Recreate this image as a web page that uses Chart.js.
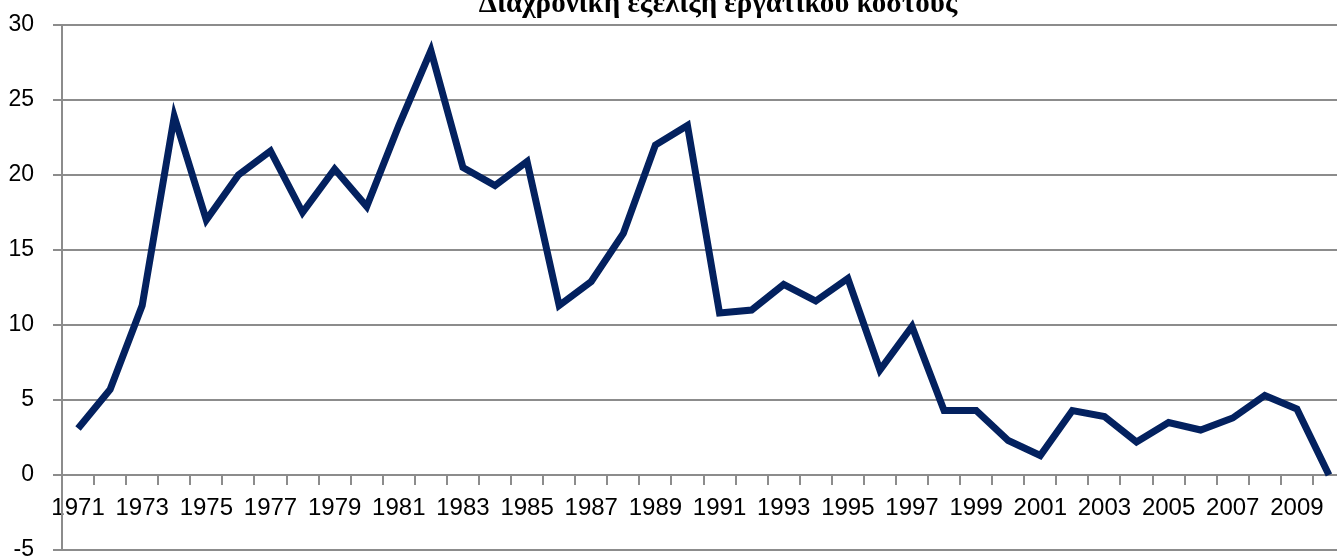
<!DOCTYPE html>
<html>
<head>
<meta charset="utf-8">
<script src="https://cdn.jsdelivr.net/npm/chart.js@4/dist/chart.umd.min.js"></script>
<style>
  html, body { margin: 0; padding: 0; background: #fff; overflow: hidden; }
  #wrap { position: absolute; left: 0; top: 0; width: 1365px; height: 572px; }
</style>
</head>
<body>
<div id="wrap"><canvas id="costChart"></canvas></div>
<script>
const years = [];
for (let y = 1971; y <= 2010; y++) years.push(String(y));

const laborCost = [
  3.1, 5.7, 11.3, 23.9, 17.0, 20.0, 21.6, 17.5, 20.4, 17.9,
  23.3, 28.3, 20.5, 19.3, 20.9, 11.3, 12.9, 16.1, 22.0, 23.3,
  10.8, 11.0, 12.7, 11.6, 13.1, 7.0, 9.9, 4.3, 4.3, 2.3,
  1.3, 4.3, 3.9, 2.2, 3.5, 3.0, 3.8, 5.3, 4.4, 0.0
];

const yTicks = [-5, 0, 5, 10, 15, 20, 25, 30];

const chartTitle = 'Διαχρονική εξέλιξη εργατικού κόστους';

const gridGray = '#8c8c8c';

// title sits partly above the page edge in the original, so draw it by hand
const titlePlugin = {
  id: 'cutTitle',
  afterDraw(chart) {
    const ctx = chart.ctx;
    ctx.save();
    ctx.font = 'bold 29px "Liberation Serif", serif';
    ctx.fillStyle = '#000';
    ctx.textAlign = 'center';
    ctx.textBaseline = 'alphabetic';
    ctx.fillText(chartTitle, 718, 12);
    ctx.restore();
  }
};

new Chart(document.getElementById('costChart'), {
  type: 'line',
  data: {
    labels: years,
    datasets: [{
      label: chartTitle,
      data: laborCost,
      borderColor: '#03215f',
      borderWidth: 7,
      pointRadius: 0,
      tension: 0,
      fill: false
    }]
  },
  options: {
    responsive: true,
    maintainAspectRatio: false,
    animation: false,
    layout: { padding: { top: 25, right: 20, bottom: 22, left: 0 } },
    plugins: {
      legend: { display: false },
      title: { display: false },
      tooltip: { enabled: false }
    },
    scales: {
      x: {
        position: { y: 0 },
        offset: true,
        grid: {
          offset: true,
          drawOnChartArea: false,
          drawTicks: true,
          tickLength: 9,
          color: gridGray,
          lineWidth: 2
        },
        border: { color: gridGray, width: 2 },
        ticks: {
          autoSkip: false,
          maxRotation: 0,
          minRotation: 0,
          padding: 10,
          color: '#000',
          font: { family: '"Liberation Sans", sans-serif', size: 24 },
          callback: (v, i) => (i % 2 === 0 ? years[i] : '')
        }
      },
      y: {
        min: yTicks[0],
        max: yTicks[yTicks.length - 1],
        afterFit: (scale) => {
          scale.width = 62;
          scale.paddingTop = 0;
          scale.paddingBottom = 0;
        },
        afterBuildTicks: (scale) => { scale.ticks = yTicks.map(v => ({ value: v })); },
        grid: {
          color: gridGray,
          lineWidth: 2,
          drawTicks: true,
          tickLength: 9
        },
        border: { color: gridGray, width: 2 },
        ticks: {
          padding: 19,
          color: '#000',
          font: { family: '"Liberation Sans", sans-serif', size: 23 }
        }
      }
    }
  },
  plugins: [titlePlugin]
});
</script>
</body>
</html>
